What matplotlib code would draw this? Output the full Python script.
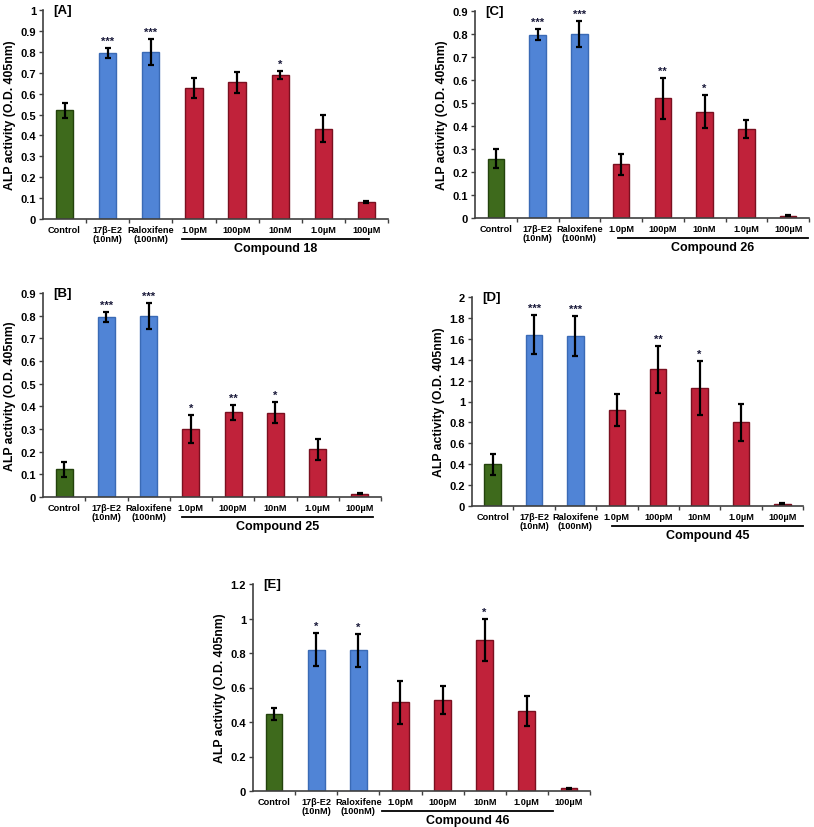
import matplotlib
matplotlib.use("Agg")
import matplotlib.pyplot as plt

plt.rcParams['font.family'] = ['Liberation Sans', 'DejaVu Sans']
plt.rcParams['font.weight'] = 'bold'

# Categories shared by all panels
categories = ["Control", "17β-E2\n(10nM)", "Raloxifene\n(100nM)",
              "1.0pM", "100pM", "10nM", "1.0µM", "100µM"]

# Panel A - Compound 18
a_vals = [0.52, 0.795, 0.80, 0.625, 0.655, 0.69, 0.433, 0.082]
a_err = [0.037, 0.023, 0.062, 0.048, 0.05, 0.02, 0.063, 0.004]
a_stars = ["", "***", "***", "", "", "*", "", ""]

# Panel B - Compound 25
b_vals = [0.122, 0.795, 0.80, 0.30, 0.373, 0.372, 0.21, 0.015]
b_err = [0.032, 0.022, 0.058, 0.062, 0.035, 0.046, 0.046, 0.003]
b_stars = ["", "***", "***", "*", "**", "*", "", ""]

# Panel C - Compound 26
c_vals = [0.257, 0.797, 0.80, 0.233, 0.52, 0.463, 0.388, 0.01]
c_err = [0.041, 0.023, 0.057, 0.047, 0.09, 0.073, 0.038, 0.003]
c_stars = ["", "***", "***", "", "**", "*", "", ""]

# Panel D - Compound 45
d_vals = [0.40, 1.64, 1.63, 0.92, 1.31, 1.13, 0.80, 0.02]
d_err = [0.10, 0.19, 0.19, 0.155, 0.225, 0.255, 0.18, 0.005]
d_stars = ["", "***", "***", "", "**", "*", "", ""]

# Panel E - Compound 46
e_vals = [0.445, 0.82, 0.815, 0.515, 0.527, 0.877, 0.462, 0.015]
e_err = [0.035, 0.095, 0.095, 0.125, 0.083, 0.123, 0.086, 0.003]
e_stars = ["", "*", "*", "", "", "*", "", ""]

colors = ["#3e6a1c", "#5084d6", "#5084d6", "#c0223a", "#c0223a",
          "#c0223a", "#c0223a", "#c0223a"]
edges = ["#23420c", "#3a6ab5", "#3a6ab5", "#7a1020", "#7a1020",
         "#7a1020", "#7a1020", "#7a1020"]

W, H = 814, 828
fig = plt.figure(figsize=(W / 100, H / 100), dpi=100)

# (label, compound, vals, err, stars, ymax, ystep, pixel box l,t,r,b, line x0,x1)
panels = [
    ("[A]", "Compound 18", a_vals, a_err, a_stars, 1.0, 0.1, (43, 11, 388, 220), (2.72, 7.05)),
    ("[C]", "Compound 26", c_vals, c_err, c_stars, 0.9, 0.1, (475, 12, 809, 219), (2.92, 7.48)),
    ("[B]", "Compound 25", b_vals, b_err, b_stars, 0.9, 0.1, (43, 294, 381, 498), (2.79, 7.31)),
    ("[D]", "Compound 45", d_vals, d_err, d_stars, 2.0, 0.2, (472, 298, 803, 507), (2.88, 7.5)),
    ("[E]", "Compound 46", e_vals, e_err, e_stars, 1.2, 0.2, (253, 585, 590, 792), (2.56, 6.63)),
]

for label, compound, vals, err, stars, ymax, ystep, box, line in panels:
    l, t, r, b = box
    ax = fig.add_axes([l / W, 1 - b / H, (r - l) / W, (b - t) / H])
    hpx = b - t
    x = list(range(len(categories)))
    ax.bar(x, vals, width=0.4, color=colors, edgecolor=edges, linewidth=1.0)
    ax.errorbar(x, vals, yerr=err, fmt="none", ecolor="black",
                elinewidth=1.6, capsize=2, capthick=1.6)
    for xi, v, e, s in zip(x, vals, err, stars):
        if s:
            ax.text(xi, v + e + ymax * 0.01, s, ha="center", va="bottom",
                    fontsize=8, color="#1a1a3a")

    ax.set_xlim(-0.5, len(categories) - 0.5)
    ax.set_ylim(0, ymax)
    n = int(round(ymax / ystep))
    ticks = [round(i * ystep, 2) for i in range(n + 1)]
    ax.set_yticks(ticks)
    ax.set_yticklabels([f"{tk:g}" for tk in ticks], fontsize=8, fontweight="bold")
    ax.set_xticks(x)
    ax.set_xticklabels(categories, fontsize=6.6, fontweight="bold", linespacing=1.05)
    ax.tick_params(axis="x", length=0, pad=4)
    ax.set_xticks([i + 0.5 for i in range(len(categories))], minor=True)
    ax.tick_params(axis="x", which="minor", length=3, width=1, color="#404040")
    ax.tick_params(axis="y", length=3, width=1, color="#404040", pad=2)
    for sp in ["top", "right"]:
        ax.spines[sp].set_visible(False)
    for sp in ["left", "bottom"]:
        ax.spines[sp].set_linewidth(1.2)
        ax.spines[sp].set_color("#404040")
    ax.set_ylabel("ALP activity (O.D. 405nm)", fontsize=8.8, fontweight="bold", labelpad=3)

    ax.text(0.03, 1.0, label, transform=ax.transAxes, fontsize=9.5,
            fontweight="bold", ha="left", va="center")

    # underline for the compound group and its name
    xt = ax.get_xaxis_transform()
    ax.plot(line, [-20 / hpx, -20 / hpx], transform=xt, color="black",
            lw=1.3, clip_on=False)
    ax.text(sum(line) / 2, -29 / hpx, compound, transform=xt, ha="center",
            va="center", fontsize=9, fontweight="bold")

fig.savefig("out.png", dpi=100)
